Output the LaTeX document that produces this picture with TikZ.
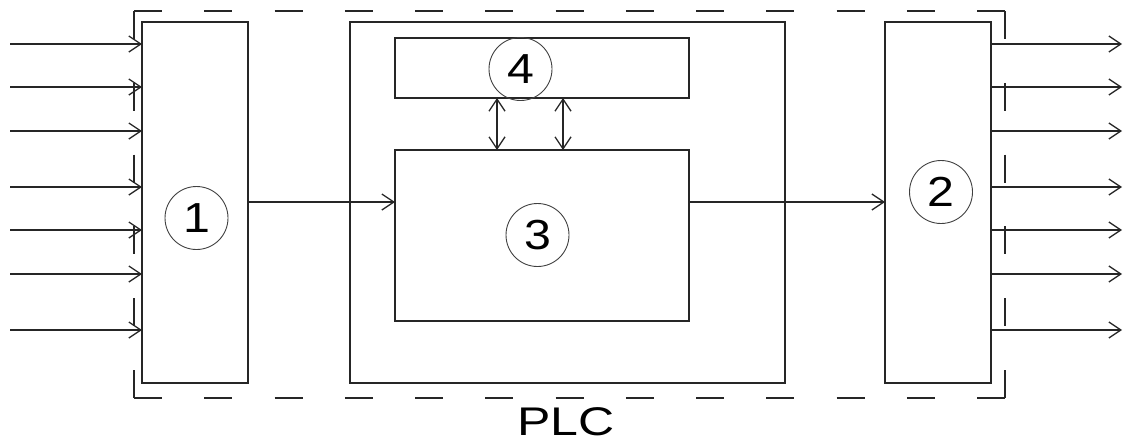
\documentclass[tikz,border=0pt]{standalone}
\usepackage{graphicx}
\usepackage{fontspec}
\setmainfont{Liberation Sans}
\usetikzlibrary{arrows.meta}
\newcommand{\wide}[1]{\scalebox{1.15}[1]{#1}}
\tikzset{
  ln/.style={line width=1.3pt, draw=black!85},
  blk/.style={ln, rectangle, inner sep=0pt, outer sep=0pt},
  num/.style={circle, draw=black!75, line width=0.9pt, minimum size=63pt, inner sep=0pt, outer sep=0pt,
    font=\fontsize{42}{42}\selectfont},
  arr/.style={ln, -{Straight Barb[length=12pt,width=16pt]}},
  barr/.style={ln, {Straight Barb[length=12pt,width=16pt]}-{Straight Barb[length=12pt,width=16pt]}},
}
\begin{document}
\begin{tikzpicture}[x=1pt,y=-1pt]
\useasboundingbox (0,0) rectangle (1126,445);
% blocks
\node[blk, minimum width=106pt, minimum height=361pt] (b1) at (195,202.5) {};
\node[blk, minimum width=435pt, minimum height=361pt] (cpu) at (567.5,202.5) {};
\node[blk, minimum width=294pt, minimum height=60pt] (b4) at (542,68) {};
\node[blk, minimum width=294pt, minimum height=171pt] (b3) at (542,235.5) {};
\node[blk, minimum width=106pt, minimum height=361pt] (b2) at (938,202.5) {};
% numbered circles
\node[num] (c1) at (196.5,218) {\wide{1}};
\node[num] (c4) at (520.5,69) {\wide{4}};
\node[num] (c3) at (537.5,235) {\wide{3}};
\node[num] (c2) at (941,192) {\wide{2}};
% outer dashed boundary
\coordinate (tl) at (134,11);
\coordinate (tr) at (1005,11);
\coordinate (bl) at (134,398);
\coordinate (br) at (1005,398);
\draw[ln, dash pattern=on 28pt off 42.25pt] (tl) -- (tr);
\draw[ln, dash pattern=on 28pt off 42.25pt] (bl) -- (br);
\draw[ln, dash pattern=on 28pt off 43.8pt] (tl) -- (bl);
\draw[ln, dash pattern=on 28pt off 43.8pt] (tr) -- (br);
% inputs and outputs
\foreach \y [count=\i] in {44,87,131,187,230,274,330} {
  \coordinate (in\i) at (10,\y);
  \coordinate (out\i) at (1122,\y);
  \draw[arr] (in\i) -- (in\i -| b1.west);
  \draw[arr] (out\i -| b2.east) -- (out\i);
}
% main flow
\draw[arr] (b1.east |- 0,202) -- (b3.west |- 0,202);
\draw[arr] (b3.east |- 0,202) -- (b2.west |- 0,202);
% bus between 4 and 3
\coordinate (ba) at (497,0);
\coordinate (bb) at (563,0);
\draw[barr] (b4.south -| ba) -- (b3.north -| ba);
\draw[barr] (b4.south -| bb) -- (b3.north -| bb);
% label
\node[font=\fontsize{40}{40}\selectfont] (plc) at (566,422) {\scalebox{1.25}[1]{PLC}};
\end{tikzpicture}
\end{document}
